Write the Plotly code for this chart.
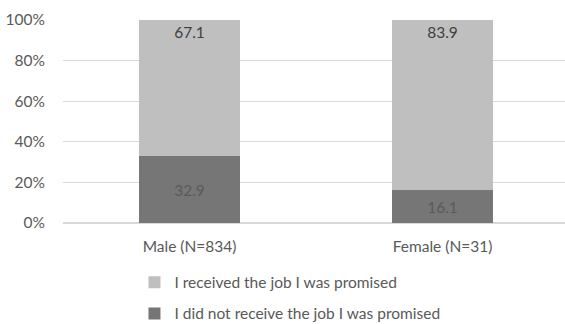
import plotly.graph_objects as go

categories = ["Male (N=834)", "Female (N=31)"]
did_not_receive = [32.9, 16.1]
received = [67.1, 83.9]
y_ticks = [0, 20, 40, 60, 80, 100]
y_tick_labels = [f"{v}%" for v in y_ticks]

FONT = "Lato"
SIZE = 15.5

fig = go.Figure()
fig.add_trace(go.Bar(
    x=categories, y=did_not_receive, name="I did not receive the job I was promised",
    marker=dict(color="#767676", line=dict(width=0)), width=0.4,
    text=[f"{v:.1f}" for v in did_not_receive], textposition="inside",
    insidetextanchor="middle", textangle=0,
    textfont=dict(family=FONT, size=SIZE, color="#5a5a5a"),
    legendgroup="b", legendrank=2,
))
fig.add_trace(go.Bar(
    x=categories, y=received, name="I received the job I was promised",
    marker=dict(color="#bfbfbf", line=dict(width=0)), width=0.4,
    text=[f"{v:.1f}" for v in received], textposition="inside",
    insidetextanchor="end", textangle=0,
    textfont=dict(family=FONT, size=SIZE, color="#404040"),
    legendgroup="a", legendrank=1,
))

fig.update_layout(
    barmode="stack",
    width=565, height=324,
    margin=dict(l=63, r=0, t=20, b=101, autoexpand=False),
    paper_bgcolor="white", plot_bgcolor="white",
    font=dict(family=FONT, size=SIZE, color="#595959"),
    showlegend=True,
    legend=dict(
        orientation="v", traceorder="grouped", tracegroupgap=8,
        xref="container", yref="container",
        x=0.238, xanchor="left", y=0.18, yanchor="top",
        font=dict(family=FONT, size=SIZE, color="#595959"),
        itemwidth=30,
    ),
)
fig.update_xaxes(range=[-0.5, 1.484], showgrid=False, showline=False,
                 ticks="", ticklabelstandoff=12, automargin=False,
                 tickfont=dict(family=FONT, size=SIZE, color="#595959"))
fig.update_yaxes(range=[0, 100], tickmode="array", tickvals=y_ticks,
                 ticktext=y_tick_labels,
                 showgrid=True, gridcolor="#d9d9d9", gridwidth=1,
                 zeroline=True, zerolinecolor="#d9d9d9", showline=False,
                 ticks="", ticklabelstandoff=17, automargin=False,
                 tickfont=dict(family=FONT, size=SIZE, color="#595959"))

fig.write_html("out.html")
